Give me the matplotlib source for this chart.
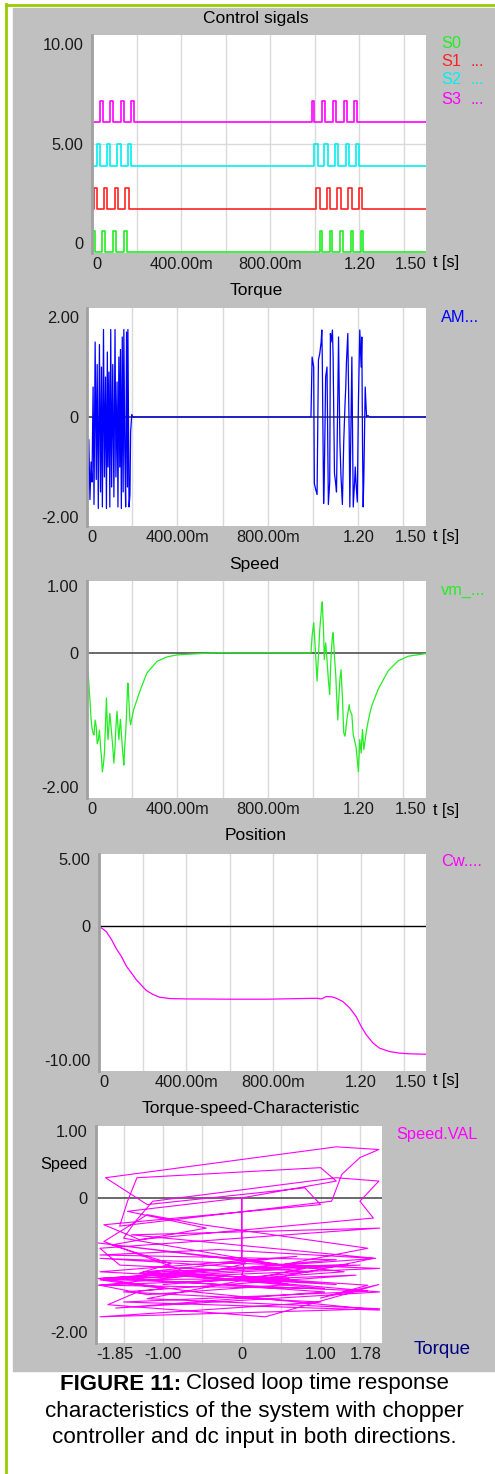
import numpy as np
import matplotlib
matplotlib.use("Agg")
import matplotlib.pyplot as plt
from matplotlib.patches import Rectangle
from matplotlib.lines import Line2D

plt.rcParams['font.family'] = ['Liberation Sans', 'DejaVu Sans']

# ---- data ----
# control pulses (on / off times in s) and low / high levels of each trace
s0_on = [0.005, 0.047, 0.095, 0.142, 1.023, 1.071, 1.116, 1.164, 1.209]
s0_off = [0.014, 0.058, 0.107, 0.155, 1.032, 1.080, 1.125, 1.173, 1.218]
s1_on = [0.009, 0.054, 0.102, 0.150, 1.007, 1.055, 1.101, 1.149, 1.197]
s1_off = [0.024, 0.069, 0.117, 0.165, 1.023, 1.071, 1.119, 1.167, 1.212]
s2_on = [0.022, 0.066, 0.114, 0.162, 0.998, 1.044, 1.092, 1.140, 1.185]
s2_off = [0.036, 0.081, 0.129, 0.177, 1.013, 1.059, 1.107, 1.154, 1.200]
s3_on = [0.036, 0.081, 0.129, 0.174, 0.989, 1.035, 1.083, 1.131, 1.176]
s3_off = [0.051, 0.096, 0.144, 0.189, 0.999, 1.047, 1.095, 1.143, 1.191]
s_low = [-0.44, 1.69, 3.87, 6.07]
s_high = [0.60, 2.78, 4.96, 7.13]

# torque and speed sampled at the same instants
t = [0.000, 0.003, 0.008, 0.013, 0.018, 0.022, 0.027, 0.031, 0.036, 0.041,
     0.045, 0.050, 0.055, 0.060, 0.064, 0.068, 0.073, 0.077, 0.082, 0.086,
     0.090, 0.093, 0.097, 0.101, 0.105, 0.109, 0.114, 0.119, 0.124, 0.128,
     0.133, 0.137, 0.141, 0.145, 0.148, 0.152, 0.156, 0.160, 0.163, 0.167,
     0.171, 0.175, 0.179, 0.181, 0.186, 0.190, 0.193, 0.198, 0.203, 0.206,
     0.236, 0.265, 0.310, 0.354, 0.398, 0.500, 0.576, 0.700, 0.850, 0.950,
     0.985,
     0.991, 0.996, 1.003, 1.006, 1.012, 1.018, 1.024, 1.030, 1.036, 1.039,
     1.041, 1.047, 1.050, 1.056, 1.062, 1.068, 1.074, 1.077, 1.080, 1.086,
     1.089, 1.095, 1.101, 1.104, 1.110, 1.113, 1.119, 1.124, 1.130, 1.136,
     1.142, 1.145, 1.148, 1.154, 1.160, 1.163, 1.172, 1.178, 1.184, 1.187,
     1.190, 1.196, 1.201, 1.207, 1.213, 1.216, 1.219, 1.222, 1.225, 1.231,
     1.237, 1.243, 1.250,
     1.260, 1.287, 1.332, 1.376, 1.421, 1.500]
torque = [0.00, -1.45, -0.45, -1.65, -0.90, -1.30, 0.60, -1.75, 1.50, -1.25,
          1.05, -1.83, 1.45, -1.50, 1.00, -1.80, 1.75, -1.20, 0.80, -1.83,
          1.30, -1.00, 0.90, -1.80, 1.75, -1.40, 1.05, -1.60, 1.75, -1.20,
          0.70, -1.80, 1.20, -1.00, 1.35, -1.83, 1.60, -1.50, 1.75, -0.60,
          -1.80, 1.70, -1.40, 1.75, -1.80, -1.55, -0.30, 0.05, 0.00, 0.00,
          0.00, 0.00, 0.00, 0.00, 0.00, 0.00, 0.00, 0.00, 0.00, 0.00,
          0.00,
          0.00, 1.20, 1.00, -1.33, -1.45, -1.55, 1.14, 1.27, 1.50, 1.74,
          1.20, -1.73, -1.20, 0.80, 1.00, -1.75, -1.30, 1.67, 1.50, 1.74,
          1.20, -1.13, -1.35, -1.50, 0.50, 1.60, -0.50, -1.20, -1.75, -0.50,
          0.30, 0.60, 1.10, 1.67, -0.30, -1.80, 1.20, -1.80, -1.30, -1.00,
          -1.30, -1.70, 0.30, 1.74, 1.00, 1.60, -0.50, -1.80, -1.20, 0.60,
          0.00, 0.03, 0.00,
          0.00, 0.00, 0.00, 0.00, 0.00, 0.00]
speed = [0.00, -0.20, -0.45, -0.70, -0.98, -1.12, -1.20, -1.22, -1.00, -1.10,
         -1.35, -1.30, -1.15, -1.40, -1.55, -1.77, -1.65, -1.50, -1.05, -0.67,
         -1.10, -1.29, -1.10, -0.90, -1.05, -1.20, -1.40, -1.64, -1.40, -1.10,
         -0.87, -1.10, -1.29, -1.10, -0.99, -1.20, -1.39, -1.55, -1.67, -1.40,
         -1.20, -0.90, -0.55, -0.45, -0.75, -1.00, -1.07, -0.98, -0.90, -0.85,
         -0.55, -0.30, -0.125, -0.06, -0.03, -0.01, 0.00, 0.00, 0.00, 0.00,
         0.00,
         0.00, 0.25, 0.45, 0.30, -0.05, -0.42, -0.05, 0.35, 0.60, 0.72,
         0.76, 0.30, -0.10, 0.15, -0.10, -0.40, -0.62, -0.30, -0.05, 0.25,
         0.30, -0.05, -0.35, -0.60, -1.00, -0.75, -0.40, -0.25, -0.65, -1.19,
         -1.24, -1.15, -1.04, -0.90, -0.77, -0.85, -0.92, -1.22, -1.30, -1.35,
         -1.39, -1.59, -1.77, -1.29, -1.49, -1.30, -1.14, -1.30, -1.44, -1.29,
         -1.15, -1.04, -0.92,
         -0.79, -0.55, -0.27, -0.12, -0.05, -0.01]

# position
pos_t = [0.0, 0.034, 0.057, 0.080, 0.103, 0.126, 0.149, 0.171, 0.194, 0.217,
         0.248, 0.278, 0.324, 0.401, 0.615, 0.768, 0.997, 1.020, 1.043, 1.066,
         1.089, 1.119, 1.150, 1.180, 1.203, 1.226, 1.257, 1.287, 1.333, 1.379,
         1.425, 1.498]
pos = [0.0, -0.42, -1.0, -1.7, -2.27, -3.0, -3.5, -4.0, -4.4, -4.8,
       -5.1, -5.3, -5.4, -5.43, -5.45, -5.45, -5.38, -5.43, -5.25, -5.27,
       -5.38, -5.63, -6.1, -6.75, -7.49, -8.1, -8.72, -9.1, -9.35, -9.47,
       -9.52, -9.55]

time_ticks = [0, 0.4, 0.8, 1.2, 1.5]
time_labels = ['0', '400.00m', '800.00m', '1.20', '1.50']
tq_ticks = [-1.85, -1.0, 0, 1.0, 1.78]
tq_labels = ['-1.85', '-1.00', '0', '1.00', '1.78']

# ---- layout helpers (pixels of a 495 x 1474 image) ----
W, H = 495, 1474
GRAY = '#c0c0c0'
GRID = '#dadada'
FS = 11.8


def box(x0, y0, x1, y1):
    return [x0 / W, 1 - y1 / H, (x1 - x0) / W, (y1 - y0) / H]


def ftext(x, y, s, **kw):
    kw.setdefault('fontsize', FS)
    kw.setdefault('va', 'center')
    fig.text(x / W, 1 - y / H, s, **kw)


def style(ax, xt, xl, yt, yl, xgrid):
    ax.set_facecolor('white')
    for side in ['top', 'right', 'bottom']:
        ax.spines[side].set_visible(False)
    ax.spines['left'].set_color('#a0a0a0')
    ax.spines['left'].set_linewidth(2)
    ax.spines['left'].set_zorder(5)
    ax.set_xticks(xt)
    ax.set_xticklabels(xl)
    ax.set_xticks(xgrid, minor=True)
    ax.grid(True, which='both', axis='x', color=GRID, lw=1)
    ax.set_yticks(yt)
    ax.set_yticklabels(yl)
    ax.tick_params(which='both', length=0, labelsize=FS, colors='#1a1a1a')
    ax.tick_params(axis='x', pad=3)
    ax.tick_params(axis='y', pad=6)
    labs = ax.get_xticklabels()
    labs[0].set_ha('left')
    labs[-1].set_ha('right')
    # no grid on the edge ticks
    glines = ax.xaxis.get_gridlines()
    glines[0].set_visible(False)
    glines[-1].set_visible(False)


fig = plt.figure(figsize=(W / 100, H / 100), dpi=100)
fig.patch.set_facecolor('white')
fig.patches.append(Rectangle((13 / W, 1 - 1371 / H), (W - 13) / W, (1371 - 8) / H,
                             transform=fig.transFigure, color=GRAY, zorder=-5))
fig.lines.append(Line2D([6 / W, 6 / W], [0, 1 - 4 / H], transform=fig.transFigure,
                        color='#99cc00', lw=2, zorder=-5))
fig.lines.append(Line2D([6 / W, 1], [1 - 5 / H, 1 - 5 / H], transform=fig.transFigure,
                        color='#99cc00', lw=2, zorder=-5))

tgrid = [0.2, 0.6, 1.0, 1.4]

# ---- control signals ----
ax1 = fig.add_axes(box(92, 35, 426, 253))
sig_colors = ['#22ee22', '#ff2222', '#00f0f0', '#ff00ff']
ons = [s0_on, s1_on, s2_on, s3_on]
offs = [s0_off, s1_off, s2_off, s3_off]
for k in range(4):
    xs, ys = [0.0], [s_low[k]]
    for a, b in zip(ons[k], offs[k]):
        xs += [a, a, b, b]
        ys += [s_low[k], s_high[k], s_high[k], s_low[k]]
    xs.append(1.5)
    ys.append(s_low[k])
    ax1.plot(xs, ys, color=sig_colors[k], lw=1.2)
ax1.axhline(5.0, color=GRID, lw=1, zorder=0)
ax1.set_xlim(0, 1.5)
ax1.set_ylim(-0.5, 10.45)
style(ax1, time_ticks, time_labels, [0, 5, 10], ['0', '5.00', '10.00'], tgrid)

# ---- torque ----
ax2 = fig.add_axes(box(87, 308, 426, 526))
ax2.axhline(0, color='#505050', lw=1.3)
ax2.plot(t, torque, color='#0000ff', lw=0.9)
ax2.set_xlim(0, 1.5)
ax2.set_ylim(-2.18, 2.18)
style(ax2, time_ticks, time_labels, [-2, 0, 2], ['-2.00', '0', '2.00'], tgrid)

# ---- speed ----
ax3 = fig.add_axes(box(87, 581, 426, 798))
ax3.axhline(0, color='#505050', lw=1.2)
ax3.plot(t, speed, color='#22ee22', lw=0.9)
ax3.set_xlim(0, 1.5)
ax3.set_ylim(-2.16, 1.07)
style(ax3, time_ticks, time_labels, [-2, 0, 1], ['-2.00', '0', '1.00'], tgrid)

# ---- position ----
ax4 = fig.add_axes(box(99, 854, 426, 1071))
ax4.axhline(0, color='black', lw=1)
ax4.plot(pos_t, pos, color='#ff00ff', lw=0.9)
ax4.set_xlim(0, 1.5)
ax4.set_ylim(-10.8, 5.37)
style(ax4, time_ticks, time_labels, [-10, 0, 5], ['-10.00', '0', '5.00'], tgrid)

# ---- torque-speed characteristic ----
ax5 = fig.add_axes(box(96, 1126, 382, 1343))
ax5.axhline(0, color='#505050', lw=1.2)
ax5.plot(torque, speed, color='#ff00ff', lw=0.8)
ax5.set_xlim(-1.85, 1.78)
ax5.set_ylim(-2.16, 1.07)
style(ax5, tq_ticks, tq_labels, [-2, 0, 1], ['-2.00', '0', '1.00'],
      [-1.5, -0.5, 0.5, 1.5])

# ---- titles and labels ----
ftext(256, 18, 'Control sigals', ha='center', fontsize=12.5)
ftext(256, 291, 'Torque', ha='center', fontsize=12.5)
ftext(254, 564, 'Speed', ha='center', fontsize=12.5)
ftext(256, 836, 'Position', ha='center', fontsize=12.5)
ftext(251, 1108, 'Torque-speed-Characteristic', ha='center', fontsize=12.5)
for y in [263, 537, 810, 1081]:
    ftext(433, y, 't [s]')

ftext(441, 43, 'S0', color=sig_colors[0])
ftext(441, 62, 'S1', color=sig_colors[1])
ftext(470, 62, '...', color=sig_colors[1])
ftext(441, 80, 'S2', color=sig_colors[2])
ftext(470, 80, '...', color=sig_colors[2])
ftext(441, 99, 'S3', color=sig_colors[3])
ftext(470, 99, '...', color=sig_colors[3])
ftext(441, 317, 'AM...', color='#0000ff')
ftext(441, 591, 'vm_...', color='#22ee22')
ftext(441, 862, 'Cw....', color='#ff00ff')
ftext(396, 1134, 'Speed.VAL', color='#ff00ff')
ftext(88, 1165, 'Speed', ha='right')
ftext(414, 1349, 'Torque', color='#000080', fontsize=13.5)

# ---- caption ----
ftext(181, 1384, 'FIGURE 11:', ha='right', fontsize=16, fontweight='bold')
ftext(186, 1384, 'Closed loop time response', ha='left', fontsize=16)
ftext(254, 1411, 'characteristics of the system with chopper', ha='center', fontsize=16.2)
ftext(254, 1437, 'controller and dc input in both directions.', ha='center', fontsize=16.2)

fig.savefig('out.png', dpi=100, facecolor='white')
